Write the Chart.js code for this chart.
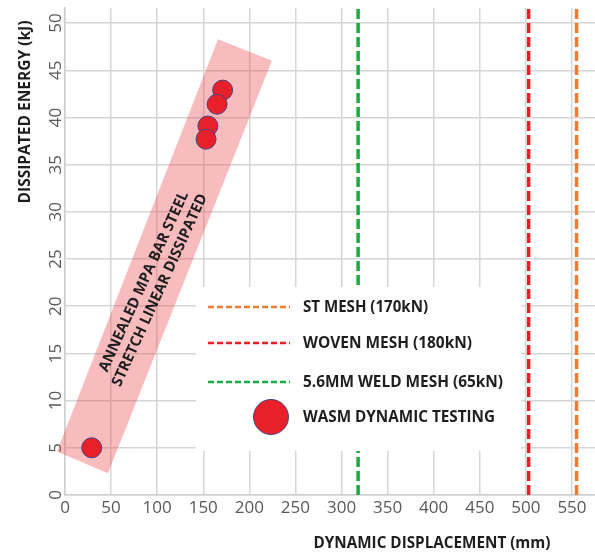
<!DOCTYPE html>
<html>
<head>
<meta charset="utf-8">
<script src="https://cdn.jsdelivr.net/npm/chart.js@4.4.0/dist/chart.umd.min.js"></script>
<style>
  html, body { margin: 0; padding: 0; background: #fff; }
  #wrap { width: 595px; height: 554px; }
</style>
</head>
<body>
<div id="wrap"><canvas id="graficoEnergia"></canvas></div>
<script>
// tick labels
const xTicks = [0, 50, 100, 150, 200, 250, 300, 350, 400, 450, 500, 550];
const yTicks = [0, 5, 10, 15, 20, 25, 30, 35, 40, 45, 50];

// vertical reference lines (mesh capacities)
const lineLabels = ['ST MESH (170kN)', 'WOVEN MESH (180kN)', '5.6MM WELD MESH (65kN)'];
const lineX = [555, 503, 318];
const lineColors = ['#ED7D31', '#EE1C25', '#1AAB40'];

// test results
const pointLabel = 'WASM DYNAMIC TESTING';
const pointX = [29, 171, 165, 155, 153];
const pointY = [5.0, 42.9, 41.4, 39.1, 37.7];

// shaded band (corners in data units) and its caption
const bandX = [166, 224.5, 46.6, -8.7];
const bandY = [48.3, 46.0, 2.3, 4.6];
const bandText = ['ANNEALED MPA BAR STEEL', 'STRETCH LINEAR DISSIPATED'];
const bandTextX = [85.7, 103];
const bandTextY = [22.6, 21.7];

const xMax = 575;
const yMax = 51.6;

const txtFont = '"Open Sans", "DejaVu Sans", sans-serif';

function squeezeText(ctx, text, x, y, width) {
    const w = ctx.measureText(text).width;
    ctx.fillText(text, x, y, Math.min(w, width));
}

const bandPlugin = {
    id: 'band',
    beforeDatasetsDraw(chart) {
        const ctx = chart.ctx;
        const xs = chart.scales.x, ys = chart.scales.y;
        ctx.save();
        ctx.fillStyle = 'rgba(235, 60, 70, 0.35)';
        ctx.beginPath();
        bandX.forEach((v, i) => {
            const px = xs.getPixelForValue(v), py = ys.getPixelForValue(bandY[i]);
            if (i === 0) ctx.moveTo(px, py); else ctx.lineTo(px, py);
        });
        ctx.closePath();
        ctx.fill();

        ctx.fillStyle = '#1e1e1e';
        ctx.font = 'bold 15px ' + txtFont;
        ctx.textAlign = 'center';
        ctx.textBaseline = 'middle';
        const widths = [196, 210];
        bandText.forEach((t, i) => {
            ctx.save();
            ctx.translate(xs.getPixelForValue(bandTextX[i]), ys.getPixelForValue(bandTextY[i]));
            ctx.rotate(-65.5 * Math.PI / 180);
            squeezeText(ctx, t, 0, 0, widths[i]);
            ctx.restore();
        });
        ctx.restore();
    }
};

const legendPlugin = {
    id: 'legendBox',
    afterDatasetsDraw(chart) {
        const ctx = chart.ctx;
        ctx.save();
        ctx.fillStyle = '#fff';
        ctx.fillRect(196, 287, 325, 164);

        const rows = [307, 343, 382];
        chart.data.datasets.forEach((ds, i) => {
            if (i >= 3) return;
            ctx.strokeStyle = ds.borderColor;
            ctx.lineWidth = 2.5;
            ctx.setLineDash([6, 3]);
            ctx.beginPath();
            ctx.moveTo(208, rows[i]);
            ctx.lineTo(290, rows[i]);
            ctx.stroke();
        });
        ctx.setLineDash([]);
        const pts = chart.data.datasets[3];
        ctx.fillStyle = pts.backgroundColor;
        ctx.strokeStyle = pts.borderColor;
        ctx.lineWidth = 1;
        ctx.beginPath();
        ctx.arc(271, 417, 17.5, 0, Math.PI * 2);
        ctx.fill();
        ctx.stroke();

        ctx.fillStyle = '#1e1e1e';
        ctx.font = 'bold 16px ' + txtFont;
        ctx.textAlign = 'left';
        ctx.textBaseline = 'middle';
        const widths = [125, 169, 200, 192];
        const ys = [307, 343, 382, 417];
        chart.data.datasets.forEach((ds, i) => {
            squeezeText(ctx, ds.label, 303, ys[i], widths[i]);
        });
        ctx.restore();
    }
};

const axisTitles = {
    id: 'axisTitles',
    afterDraw(chart) {
        const ctx = chart.ctx;
        ctx.save();
        ctx.fillStyle = '#1e1e1e';
        ctx.font = 'bold 16px ' + txtFont;
        ctx.textAlign = 'center';
        ctx.textBaseline = 'middle';
        squeezeText(ctx, 'DYNAMIC DISPLACEMENT (mm)', 432, 543, 237);
        ctx.translate(25, 112);
        ctx.rotate(-Math.PI / 2);
        squeezeText(ctx, 'DISSIPATED ENERGY (kJ)', 0, 0, 183);
        ctx.restore();
    }
};

const datasets = lineLabels.map((lbl, i) => ({
    type: 'scatter',
    label: lbl,
    data: [{ x: lineX[i], y: 0 }, { x: lineX[i], y: yMax }],
    showLine: true,
    borderColor: lineColors[i],
    backgroundColor: lineColors[i],
    borderWidth: 3.5,
    borderDash: [10, 4],
    pointRadius: 0
}));

datasets.push({
    type: 'scatter',
    label: pointLabel,
    data: pointX.map((v, i) => ({ x: v, y: pointY[i] })),
    backgroundColor: '#E8202A',
    borderColor: '#4A4380',
    borderWidth: 1,
    pointRadius: 10,
    pointHoverRadius: 10
});

new Chart(document.getElementById('graficoEnergia'), {
    type: 'scatter',
    data: { datasets: datasets },
    options: {
        responsive: true,
        maintainAspectRatio: false,
        animation: false,
        layout: { autoPadding: false, padding: { top: 8, left: 0, right: 0, bottom: 0 } },
        plugins: {
            legend: { display: false },
            tooltip: { enabled: false }
        },
        scales: {
            x: {
                type: 'linear',
                min: 0,
                max: xMax,
                afterBuildTicks: s => { s.ticks = xTicks.map(v => ({ value: v })); },
                afterFit: s => {
                    s.height = 59;
                    s.paddingLeft = 0;
                    s.paddingRight = 0;
                },
                grid: { color: '#d6d6d6', lineWidth: 1.5, drawTicks: false },
                border: { color: '#d0d0d0', width: 1.5 },
                ticks: {
                    padding: 3,
                    color: '#595959',
                    font: { family: txtFont, size: 17 },
                    maxRotation: 0
                }
            },
            y: {
                type: 'linear',
                min: 0,
                max: yMax,
                afterBuildTicks: s => { s.ticks = yTicks.map(v => ({ value: v })); },
                afterFit: s => {
                    s.width = 65;
                    s.paddingTop = 0;
                    s.paddingBottom = 0;
                },
                grid: { color: '#d6d6d6', lineWidth: 1.5, drawTicks: false },
                border: { color: '#d0d0d0', width: 1.5 },
                ticks: {
                    padding: -1,
                    color: '#595959',
                    font: { family: txtFont, size: 17 },
                    minRotation: 90,
                    maxRotation: 90,
                    crossAlign: 'center'
                }
            }
        }
    },
    plugins: [bandPlugin, legendPlugin, axisTitles]
});
</script>
</body>
</html>
